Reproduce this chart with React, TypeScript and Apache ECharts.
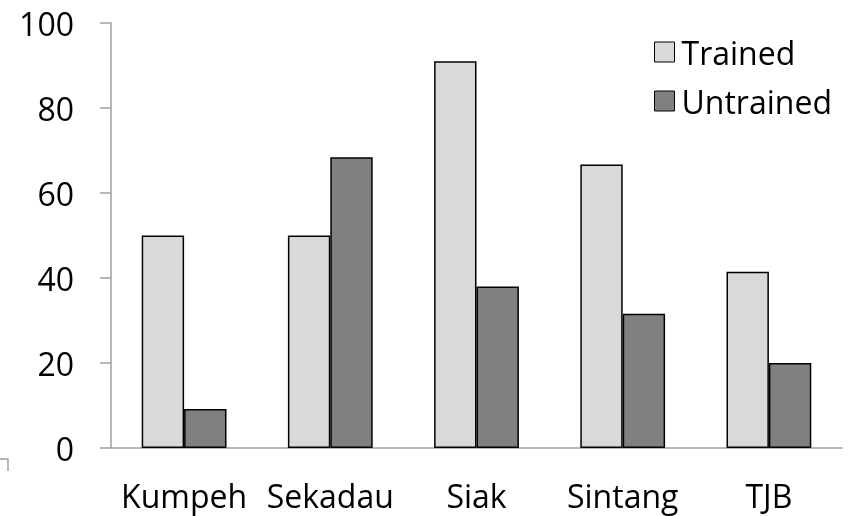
import React, { useEffect, useRef } from "react";
import * as echarts from "echarts";

const categories = ["Kumpeh", "Sekadau", "Siak", "Sintang", "TJB"];
const trained = [50, 50, 91, 66.7, 41.5];
const untrained = [9.2, 68.4, 38, 31.6, 20];
const yTicks = { min: 0, max: 100, interval: 20 };

export default function App() {
  const ref = useRef<HTMLDivElement>(null);
  useEffect(() => {
    if (!ref.current) return;
    const chart = echarts.init(ref.current, null, { renderer: "svg" });
    const font = "'Open Sans', sans-serif";
    chart.setOption({
      animation: false,
      textStyle: { fontFamily: font },
      grid: { left: 111, right: 8, top: 23, bottom: 68 },
      legend: {
        orient: "vertical",
        left: 649,
        top: 31,
        itemWidth: 20,
        itemHeight: 20,
        itemGap: 17,
        icon: "rect",
        itemStyle: { borderColor: "#000", borderWidth: 1 },
        textStyle: { fontSize: 32, color: "#000", fontFamily: font, padding: [0, 0, 0, 2] },
        data: ["Trained", "Untrained"],
      },
      xAxis: {
        type: "category",
        data: categories,
        axisLine: { lineStyle: { color: "#a0a0a0", width: 1.5 } },
        axisTick: { length: 12, lineStyle: { color: "#a0a0a0", width: 1.5 } },
        axisLabel: { fontSize: 32, color: "#000", margin: 31, interval: 0, fontFamily: font },
      },
      yAxis: {
        type: "value",
        min: yTicks.min,
        max: yTicks.max,
        interval: yTicks.interval,
        splitLine: { show: false },
        axisLine: { show: true, lineStyle: { color: "#a0a0a0", width: 1.5 } },
        axisTick: { show: true, length: 11, lineStyle: { color: "#a0a0a0", width: 1.5 } },
        axisLabel: { fontSize: 32, color: "#000", margin: 37, fontFamily: font },
      },
      series: [
        {
          name: "Trained",
          type: "bar",
          data: trained,
          barGap: "0%",
          barCategoryGap: "42%",
          itemStyle: { color: "#d9d9d9", borderColor: "#000", borderWidth: 1.5 },
        },
        {
          name: "Untrained",
          type: "bar",
          data: untrained,
          barGap: "0%",
          barCategoryGap: "42%",
          itemStyle: { color: "#808080", borderColor: "#000", borderWidth: 1.5 },
        },
      ],
      graphic: [
        {
          type: "polyline",
          shape: { points: [[0, 459], [8, 459], [8, 471]] },
          style: { stroke: "#a0a0a0", lineWidth: 1.5, fill: "none" },
        },
      ],
    });
    return () => chart.dispose();
  }, []);
  return <div ref={ref} style={{ width: 850, height: 516, position: "fixed", left: 0, top: 0 }} />;
}
